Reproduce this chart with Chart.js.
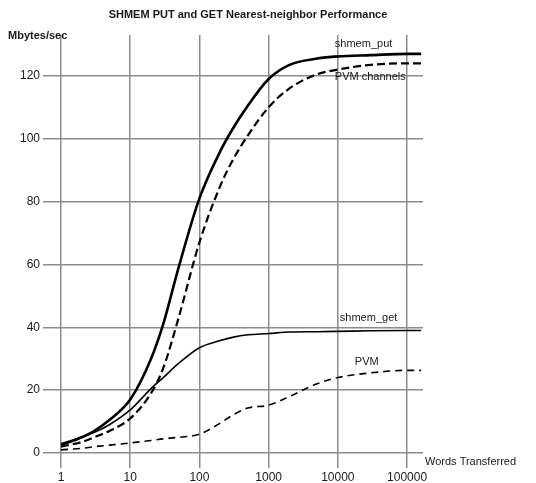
<!DOCTYPE html>
<html>
<head>
<meta charset="utf-8">
<script src="https://cdn.jsdelivr.net/npm/chart.js@4/dist/chart.umd.min.js"></script>
<style>
  html, body { margin: 0; padding: 0; background: #fff; }
  #wrap { width: 536px; height: 483px; }
</style>
</head>
<body>
<div id="wrap"><canvas id="perfChart" width="536" height="483"></canvas></div>
<script>
// Words transferred (x, log scale)
const words = [1, 2, 3, 5, 10, 20, 30, 50, 100, 200, 300, 500, 1000, 2000, 5000, 10000, 30000, 100000, 160000];

// Mbytes/sec for each curve
const shmemPut    = [2.5, 5, 7, 10.5, 17, 30, 41, 59, 81, 96, 103, 110.5, 119, 123.5, 125.5, 126.2, 126.6, 127, 127];
const pvmChannels = [2, 3.5, 5, 7, 11, 19, 27, 43, 67, 85, 93, 101, 110, 116, 120.5, 122, 123.5, 124, 124];
const shmemGet    = [3, 5, 6.5, 9, 13.7, 20.5, 24, 28.5, 33.5, 35.8, 36.8, 37.6, 38, 38.5, 38.6, 38.7, 38.9, 39, 39];
const pvm         = [1, 1.5, 2, 2.5, 3.2, 4, 4.5, 5, 6, 9.5, 12, 14.3, 15.2, 18, 22, 24, 25.5, 26.3, 26.3];

const xTicks = [1, 10, 100, 1000, 10000, 100000];
const yTicks = [0, 20, 40, 60, 80, 100, 120];

const FONT = "'Liberation Sans', Arial, sans-serif";
const GRID = "#8c8c8c";

function toPoints(vals) {
  return words.map((w, i) => ({ x: w, y: vals[i] }));
}

// titles, axis captions and curve names
const textPlugin = {
  id: "texts",
  afterDraw(chart) {
    const { ctx, scales: { x, y } } = chart;
    ctx.save();
    ctx.fillStyle = "#1a1a1a";
    ctx.textBaseline = "middle";

    ctx.font = "bold 11px " + FONT;
    ctx.textAlign = "center";
    ctx.fillText("SHMEM PUT and GET Nearest-neighbor Performance", 248, 15);
    ctx.textAlign = "left";
    ctx.fillText("Mbytes/sec", 8, 36);

    ctx.font = "11px " + FONT;
    ctx.fillText("Words Transferred", x.right + 2, y.bottom + 9);

    const x4 = x.getPixelForValue(10000);
    ctx.fillText("shmem_put", x4 - 3, y.getPixelForValue(130));
    ctx.fillText("PVM channels", x4 - 3, y.getPixelForValue(119.5));
    ctx.fillText("shmem_get", x4 + 2, y.getPixelForValue(43));
    ctx.fillText("PVM", x4 + 17, y.getPixelForValue(29));
    ctx.restore();
  }
};

new Chart(document.getElementById("perfChart"), {
  type: "line",
  data: {
    datasets: [
      { label: "shmem_put", data: toPoints(shmemPut), borderColor: "#000", borderWidth: 2.6 },
      { label: "PVM channels", data: toPoints(pvmChannels), borderColor: "#000", borderWidth: 2.2, borderDash: [8, 4] },
      { label: "shmem_get", data: toPoints(shmemGet), borderColor: "#000", borderWidth: 1.6 },
      { label: "PVM", data: toPoints(pvm), borderColor: "#000", borderWidth: 1.6, borderDash: [7, 5] }
    ]
  },
  options: {
    responsive: false,
    animation: false,
    layout: { padding: { left: 0, top: 35, right: 113, bottom: 0 } },
    elements: {
      point: { radius: 0 },
      line: { cubicInterpolationMode: "monotone", fill: false }
    },
    plugins: {
      legend: { display: false },
      tooltip: { enabled: false }
    },
    scales: {
      x: {
        type: "logarithmic",
        min: 1,
        max: 170000,
        afterBuildTicks: (s) => { s.ticks = xTicks.map((v) => ({ value: v })); },
        afterFit: (s) => { s.height = 30; },
        border: { display: false },
        grid: { color: GRID, lineWidth: 1.5, tickLength: 15 },
        ticks: {
          autoSkip: false,
          maxRotation: 0,
          padding: 2,
          color: "#1a1a1a",
          font: { family: FONT, size: 12 },
          callback: (v) => String(v)
        }
      },
      y: {
        type: "linear",
        min: 0,
        max: 133,
        afterBuildTicks: (s) => { s.ticks = yTicks.map((v) => ({ value: v })); },
        afterFit: (s) => { s.width = 61; },
        border: { display: false },
        grid: { color: GRID, lineWidth: 1.5, tickLength: 18 },
        ticks: {
          padding: 3,
          color: "#1a1a1a",
          font: { family: FONT, size: 12 }
        }
      }
    }
  },
  plugins: [textPlugin]
});
</script>
</body>
</html>
